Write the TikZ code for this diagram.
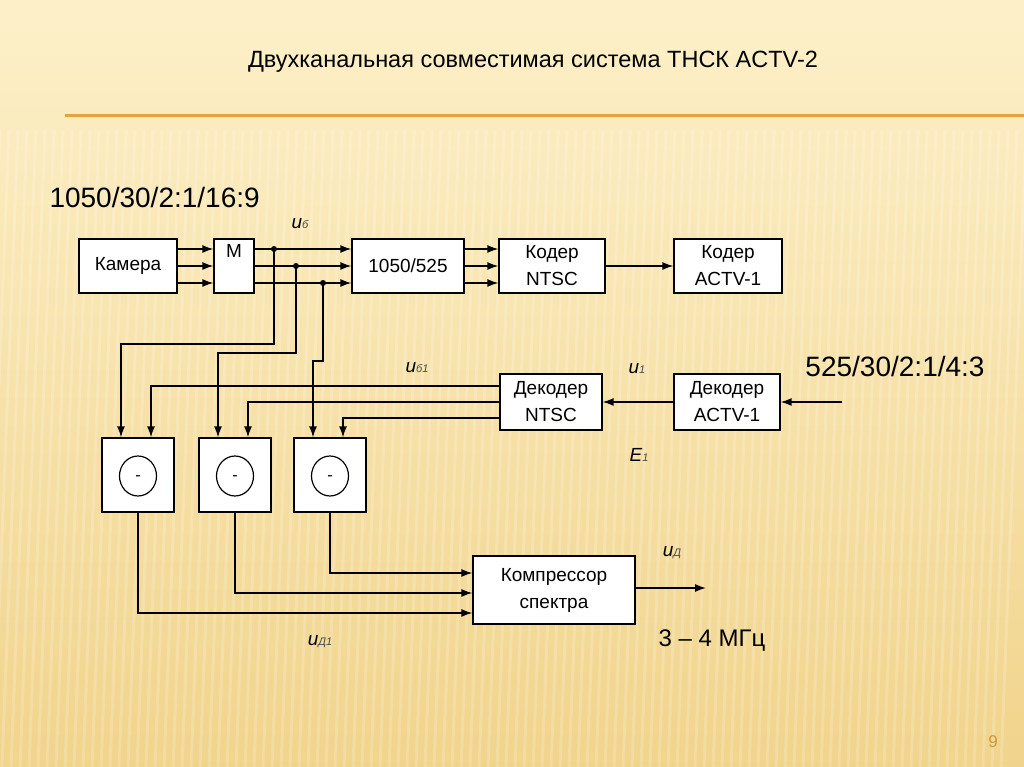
\documentclass[tikz,border=0pt]{standalone}
\usepackage{fontspec}
\setmainfont{Liberation Sans}
\usetikzlibrary{calc}
\usetikzlibrary{arrows.meta}
\usetikzlibrary{positioning}
\usetikzlibrary{shapes.geometric}
\definecolor{PaleCream}{HTML}{FDF0C9}
\definecolor{DarkCream}{HTML}{F1D48C}
\definecolor{LineOrange}{HTML}{E9A33B}
\definecolor{PageTan}{HTML}{CF973A}
\definecolor{SubGray}{HTML}{4A4A4A}
\newcommand{\siglab}[2]{{\fontsize{19}{19}\selectfont\itshape #1}{\fontsize{11}{11}\selectfont\itshape\color{SubGray}#2}}

\begin{document}
\begin{tikzpicture}[x=1pt,y=-1pt,
  block/.style={draw,fill=white,line width=1.2pt,inner sep=0pt,align=center,font=\fontsize{19}{27}\selectfont},
  wire/.style={line width=1.5pt},
  arr/.style={wire,-{Latex[length=11pt,width=8pt]}},
  tap/.style={circle,fill,inner sep=0pt,minimum size=6pt},
  stripe/.style={white,opacity=0.18,line width=3pt}]
  \useasboundingbox (0,0) rectangle (1024,767);
  \shade[top color=PaleCream,bottom color=DarkCream] (0,0) rectangle (1024,767);
  \foreach \x in {0,9,...,1030}{%
    \draw[stripe] (\x,130) -- (\x-25,767);
  }
  \draw[LineOrange,line width=3pt] (65,116) -- (1024,116);

  \node[font=\fontsize{23.5}{26}\selectfont] (Title) at (533,62) {Двухканальная совместимая система ТНСК ACTV-2};
  \node[anchor=west,font=\fontsize{28}{30}\selectfont] (FmtHi) at (46,197) {1050/30/2:1/16:9};
  \node[font=\fontsize{28}{30}\selectfont] (FmtLo) at (895,366) {525/30/2:1/4:3};

  \node[block,minimum width=98pt,minimum height=54pt] (Kamera) at (128,266) {Камера};
  \node[block,minimum width=40pt,minimum height=54pt,
    label={[font=\fontsize{19}{19}\selectfont,anchor=north,inner sep=6pt]north:M}] (Mux) at (234,266) {};
  \node[block,minimum width=112pt,minimum height=54pt] (Conv) at (408,266) {1050/525};
  \node[block,minimum width=106pt,minimum height=54pt] (CoderNTSC) at (552,266) {Кодер\\NTSC};
  \node[block,minimum width=108pt,minimum height=54pt] (CoderACTV) at (728,266) {Кодер\\ACTV-1};
  \node[block,minimum width=102pt,minimum height=56pt] (DecNTSC) at (551,402) {Декодер\\NTSC};
  \node[block,minimum width=106pt,minimum height=56pt] (DecACTV) at (727,402) {Декодер\\ACTV-1};
  \node[block,minimum width=162pt,minimum height=68pt] (Comp) at (554,590) {Компрессор\\спектра};

  \foreach \name/\xc in {SubOne/138,SubTwo/235,SubThree/330}{%
    \node[block,minimum width=72pt,minimum height=74pt] (\name) at (\xc,475) {};
    \node[draw,ellipse,line width=1.2pt,minimum width=37pt,minimum height=40pt,inner sep=0pt,
      font=\fontsize{16}{16}\selectfont] (\name-ring) at (\xc,476) {\smash{\raisebox{-4.5pt}{-}}};
  }

  \foreach \dy in {17,0,-17}{%
    \draw[arr] ([yshift=\dy pt]Kamera.east) -- ([yshift=\dy pt]Mux.west);
    \draw[arr] ([yshift=\dy pt]Mux.east) -- ([yshift=\dy pt]Conv.west);
    \draw[arr] ([yshift=\dy pt]Conv.east) -- ([yshift=\dy pt]CoderNTSC.west);
  }
  \draw[arr] (CoderNTSC) -- (CoderACTV);

  \node[tap] (TapA) at (274,249) {};
  \node[tap] (TapB) at (296,266) {};
  \node[tap] (TapC) at (323,283) {};
  \draw[arr] (TapA.center) -- ++(0,95) -| ([xshift=-17pt]SubOne.north);
  \draw[arr] (TapB.center) -- ++(0,87) -| ([xshift=-17pt]SubTwo.north);
  \draw[arr] (TapC.center) -- ++(0,78) -| ([xshift=-17pt]SubThree.north);

  \draw[arr] ([yshift=16pt]DecNTSC.west) -| ([xshift=13pt]SubOne.north);
  \draw[arr] (DecNTSC.west) -| ([xshift=13pt]SubTwo.north);
  \draw[arr] ([yshift=-16pt]DecNTSC.west) -| ([xshift=13pt]SubThree.north);
  \draw[arr] (DecACTV) -- (DecNTSC);
  \coordinate (InLo) at (842,402);
  \draw[arr] (InLo) -- (DecACTV);

  \draw[arr] (SubThree.south) |- ([yshift=17pt]Comp.west);
  \draw[arr] (SubTwo.south) |- ([yshift=-3pt]Comp.west);
  \draw[arr] (SubOne.south) |- ([yshift=-23pt]Comp.west);
  \coordinate (OutD) at (706,588);
  \draw[arr] (Comp.east |- OutD) -- (OutD);

  \node (LabUb) at (300,224) {\siglab{u}{б}};
  \node (LabUbOne) at (417,368) {\siglab{u}{б1}};
  \node (LabUOne) at (637,369) {\siglab{u}{1}};
  \node (LabEOne) at (639,455) {\siglab{E}{1}};
  \node (LabUd) at (672,553) {\siglab{u}{Д}};
  \node (LabUdOne) at (320,642) {\siglab{u}{Д1}};
  \node[font=\fontsize{24}{26}\selectfont] (Band) at (712,641) {3 – 4 МГц};
  \node[text=PageTan,font=\fontsize{17}{17}\selectfont] (PageNo) at (993,742) {9};
\end{tikzpicture}
\end{document}
